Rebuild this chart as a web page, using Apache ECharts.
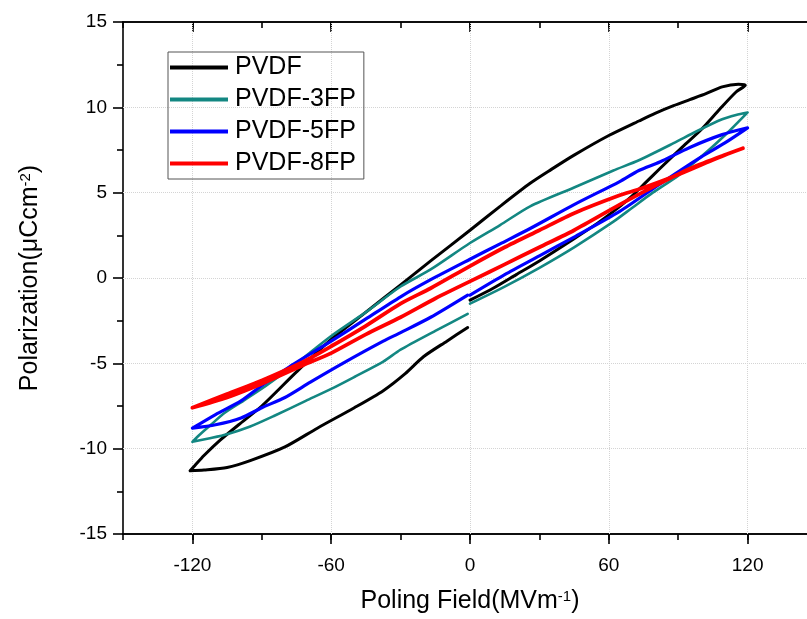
<!DOCTYPE html>
<html><head><meta charset="utf-8">
<script src="https://cdn.jsdelivr.net/npm/echarts@6/dist/echarts.min.js"></script>
<style>html,body{margin:0;padding:0;background:#fff;overflow:hidden;width:807px;height:619px}#c{width:830px;height:619px}</style>
</head><body><div id="c"></div>
<script>
const seriesNames = ['PVDF', 'PVDF-3FP', 'PVDF-5FP', 'PVDF-8FP'];
const seriesColors = ['#000000', '#138782', '#0000ff', '#ff0000'];

// Poling field (MV/m), polarization (uC/cm2): ascending right part, descending branch, ascending left part
const PVDF = [
  [0,-1.3],[10,-0.6],[20,0.2],[30,1.0],[45,2.3],[55,3.2],[62,3.9],[70,4.8],[76,5.6],[82,6.4],[92,7.7],[100,8.7],[108,9.9],[115,10.9],[119,11.3],
  [116,11.35],[109,11.2],[102,10.8],[95,10.45],[88,10.1],[80,9.65],[73,9.2],[60,8.35],[45,7.2],[35,6.35],[26,5.55],[13,4.2],[0,2.8],[-17,1.0],[-30,-0.4],[-45,-2.0],[-60,-3.6],[-75,-5.5],[-90,-7.5],[-100,-8.6],[-108,-9.5],[-115,-10.4],[-119,-11.0],[-121,-11.3],
  [-115,-11.25],[-105,-11.1],[-95,-10.7],[-80,-9.9],[-66,-8.8],[-50,-7.6],[-37.5,-6.6],[-28,-5.6],[-20,-4.6],[-10,-3.7],[-1,-2.9]
];
const PVDF_3FP = [
  [0,-1.5],[15,-0.5],[30,0.6],[45,1.8],[62,3.3],[70,4.1],[79,5.0],[90,6.0],[102,7.35],[112,8.6],[120,9.7],
  [115,9.55],[109,9.3],[98,8.6],[88,7.9],[73,6.9],[62,6.3],[45,5.3],[26,4.2],[13,3.1],[0,2.05],[-17,0.5],[-30,-0.5],[-45,-2.0],[-60,-3.4],[-75,-5.0],[-88,-6.3],[-98,-7.2],[-106,-7.9],[-112,-8.6],[-117,-9.2],[-120,-9.6],
  [-113,-9.4],[-105,-9.15],[-95,-8.7],[-85,-8.1],[-71,-7.2],[-60,-6.5],[-50,-5.8],[-37.5,-4.9],[-30,-4.2],[-15,-3.1],[-1,-2.1]
];
const PVDF_5FP = [
  [0,-1.0],[15,0.2],[30,1.3],[45,2.4],[64.7,3.9],[82,5.5],[100,7.1],[110,7.9],[120,8.8],
  [109,8.4],[95,7.65],[82,6.8],[73,6.3],[64.7,5.65],[45,4.3],[26,2.9],[13,2.0],[0,1.1],[-17,-0.1],[-30,-1.1],[-45,-2.4],[-60,-3.7],[-78,-5.2],[-90,-6.3],[-99,-7.2],[-110,-8.0],[-120,-8.8],
  [-110,-8.6],[-99,-8.2],[-90,-7.6],[-80,-7.0],[-69,-6.1],[-55,-5.0],[-37.5,-3.7],[-30,-3.2],[-17,-2.3],[-1,-1.0]
];
const PVDF_8FP = [
  [0,-0.2],[15,0.8],[30,1.8],[45,2.8],[64.7,4.3],[80,5.4],[95,6.4],[108,7.1],[118,7.6],
  [110,7.2],[102,6.75],[88,5.95],[73,5.2],[64.7,4.85],[45,3.8],[30,2.8],[15,1.8],[0,0.7],[-17,-0.6],[-30,-1.5],[-45,-2.8],[-60,-4.0],[-72,-4.9],[-90,-6.0],[-105,-6.8],[-120,-7.6],
  [-105,-7.0],[-90,-6.2],[-72,-5.1],[-60,-4.4],[-45,-3.3],[-30,-2.3],[-15,-1.2],[0,-0.2]
];
const seriesData = [PVDF, PVDF_3FP, PVDF_5FP, PVDF_8FP];
const lineWidths = [3, 2.6, 3.2, 3.8];

const xRange = [-150, 150];
const yRange = [-15, 15];
const xMajorTicks = [-120, -60, 0, 60, 120];
const xGridValues = [-120, -60, 0, 60, 120];
const yGridValues = [-10, -5, 0, 5, 10];

const FONT = '"Liberation Sans", Arial, sans-serif';
const AX = {color: '#000', width: 1.6};

function xAx(pos, inside, len, custom, extra) {
  const a = {
    type: 'value', position: pos, min: xRange[0], max: xRange[1], interval: 30,
    axisLine: {show: true, onZero: false, lineStyle: AX},
    axisTick: {show: true, inside: inside, length: len, lineStyle: AX},
    axisLabel: {show: false},
    splitLine: {show: false}
  };
  if (custom) a.axisTick.customValues = custom;
  return Object.assign(a, extra || {});
}

const chart = echarts.init(document.getElementById('c'), null, {renderer: 'canvas'});
const option = {
  animation: false,
  backgroundColor: '#fff',
  textStyle: {fontFamily: FONT},
  grid: {left: 123, top: 22, right: 13, height: 512},
  legend: {
    orient: 'vertical', left: 168, top: 52,
    data: seriesNames.map(n => ({name: n, icon: 'rect'})),
    itemWidth: 58, itemHeight: 4, itemGap: 7,
    borderColor: '#555', borderWidth: 1, padding: [3, 8, 3, 2],
    textStyle: {fontSize: 25, lineHeight: 24, color: '#000', fontFamily: FONT, padding: [0, 0, 0, 2]}
  },
  xAxis: [
    xAx('bottom', false, 10, xMajorTicks, {
      axisLabel: {show: true, customValues: xMajorTicks, margin: 22, fontSize: 19, color: '#000', fontFamily: FONT},
      name: 'Poling Field(MVm{sup|-1})', nameLocation: 'middle', nameGap: 55,
      nameTextStyle: {fontSize: 25, color: '#000', fontFamily: FONT,
        rich: {sup: {fontSize: 15, verticalAlign: 'top', color: '#000', fontFamily: FONT}}}
    }),
    xAx('bottom', false, 6, null),
    xAx('top', true, 10, xMajorTicks),
    xAx('top', true, 6, null)
  ],
  yAxis: [
    {
      type: 'value', position: 'left', min: yRange[0], max: yRange[1], interval: 5,
      axisLine: {show: true, onZero: false, lineStyle: AX},
      axisTick: {show: true, length: 10, lineStyle: AX},
      minorTick: {show: true, splitNumber: 2, length: 6, lineStyle: AX},
      axisLabel: {margin: 16, fontSize: 19, color: '#000', fontFamily: FONT},
      splitLine: {show: false},
      name: 'Polarization(μCcm{sup|-2})', nameLocation: 'middle', nameGap: 80, nameRotate: 90,
      nameTextStyle: {fontSize: 25, color: '#000', fontFamily: FONT,
        rich: {sup: {fontSize: 15, verticalAlign: 'top', color: '#000', fontFamily: FONT}}}
    },
    {
      type: 'value', position: 'right', min: yRange[0], max: yRange[1], interval: 5,
      axisLine: {show: true, onZero: false, lineStyle: AX},
      axisTick: {show: true, inside: true, length: 10, lineStyle: AX},
      minorTick: {show: true, splitNumber: 2, length: 6, lineStyle: AX},
      axisLabel: {show: false},
      splitLine: {show: false}
    }
  ],
  series: [
    {
      name: '__grid', type: 'line', data: [], silent: true, z: 1,
      markLine: {
        silent: true, symbol: ['none', 'none'], z: 1, animation: false,
        label: {show: false},
        lineStyle: {color: '#d4d4d4', type: 'dotted', width: 1},
        data: xGridValues.map(v => ({xAxis: v})).concat(yGridValues.map(v => ({yAxis: v})))
      }
    }
  ].concat(seriesNames.map((n, i) => ({
    name: n, type: 'line', data: seriesData[i], showSymbol: false, symbol: 'none',
    smooth: 0.25,
    color: seriesColors[i],
    lineStyle: {color: seriesColors[i], width: lineWidths[i], join: 'round', cap: 'round'},
    z: 2 + i
  })))
};
chart.setOption(option);
</script>
</body></html>
